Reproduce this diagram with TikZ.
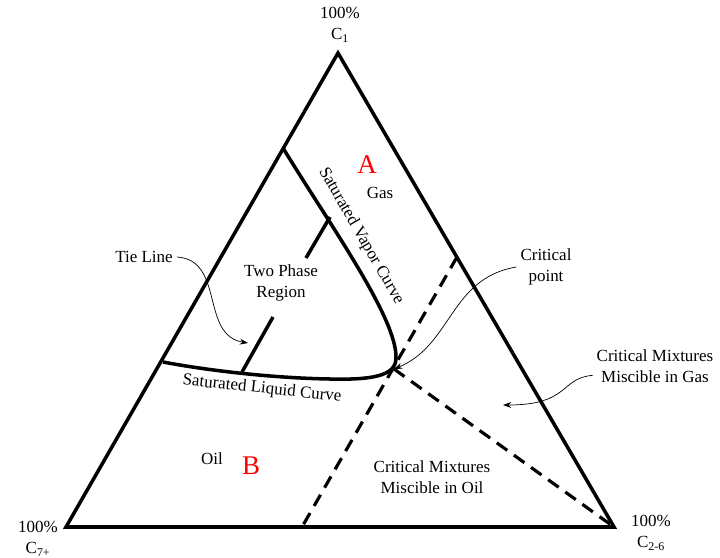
\documentclass[tikz,border=0pt]{standalone}
\usepackage{fontspec}
\setmainfont{Liberation Serif}
\usepackage{tikz}
\usetikzlibrary{arrows,arrows.meta}

\begin{document}
\begin{tikzpicture}[x=0.03cm,y=-0.03cm]
            \tikzstyle{every node}=[font=\fontsize{14.5}{18}\selectfont]
            \tikzstyle{edge}=[line width=3pt, line join=miter]
            \tikzstyle{phasecurve}=[line width=3pt]
            \tikzstyle{tieline}=[line width=3pt]
            \tikzstyle{critline}=[line width=2.7pt, dash pattern=on 11pt off 7pt]
            \tikzstyle{pointer}=[line width=0.6pt, -{Stealth[length=7pt,width=5pt]}]
            \tikzstyle{label}=[align=center]
            \tikzstyle{region}=[text=red, font=\fontsize{23}{24}\selectfont]

            \useasboundingbox (0,0) rectangle (720,558);

            % corners
            \coordinate (v1) at (338,53);
            \coordinate (v7) at (66,527);
            \coordinate (v26) at (614,527);
            \draw[edge] (v1) -- (v7) -- (v26) -- cycle;

            % corner labels
            \node[label] (l1) at (340,25) {100\%\\C\textsubscript{1}};
            \node[label] (l7) at (38,539) {100\%\\C\textsubscript{7+}};
            \node[label] (l26) at (651,533) {100\%\\C\textsubscript{2-6}};

            % phase envelope
            \coordinate (vs) at (283,148);
            \coordinate (cp) at (394,369);
            \coordinate (ls) at (163,362);
            \draw[phasecurve] (vs) .. controls (330,225) and (397,318) .. (396,358)
                .. controls (396,376) and (372,380) .. (330,379)
                .. controls (270,378) and (205,370) .. (ls);

            % tie line
            \coordinate (tv) at (330,217);
            \coordinate (tg1) at (306,258);
            \coordinate (tg2) at (273,317);
            \coordinate (tl) at (242,372);
            \draw[tieline] (tv) -- (tg1);
            \draw[tieline] (tg2) -- (tl);

            % critical lines
            \coordinate (ce) at (457,257);
            \coordinate (cb) at (302,527);
            \draw[critline] (ce) -- (cb);
            \draw[critline] (cp) -- (v26);

            % texts
            \node[region] (A) at (367,165) {A};
            \node (gas) at (380,193) {Gas};
            \node[region] (B) at (251,466) {B};
            \node (oil) at (212,459) {Oil};
            \node[label] (twophase) at (281,283) {Two Phase\\Region};
            \node[rotate=-60] (vapor) at (361,236) {Saturated Vapor Curve};
            \node[rotate=-6] (liquid) at (262,389) {Saturated Liquid Curve};
            \node (tie) at (144,257) {Tie Line};
            \node[label] (critpt) at (546,267) {Critical\\point};
            \node[label] (mixgas) at (655,366) {Critical Mixtures\\Miscible in Gas};
            \node[label] (mixoil) at (432,477) {Critical Mixtures\\Miscible in Oil};

            % pointers
            \draw[pointer] (tie.east) .. controls (225,260) and (200,335) .. (248,343);
            \draw[pointer] (critpt.west) .. controls (450,278) and (452,345) .. (cp);
            \draw[pointer] ([yshift=-8pt]mixgas.west) .. controls (560,378) and (570,405) .. (503,405);
\end{tikzpicture}
\end{document}
